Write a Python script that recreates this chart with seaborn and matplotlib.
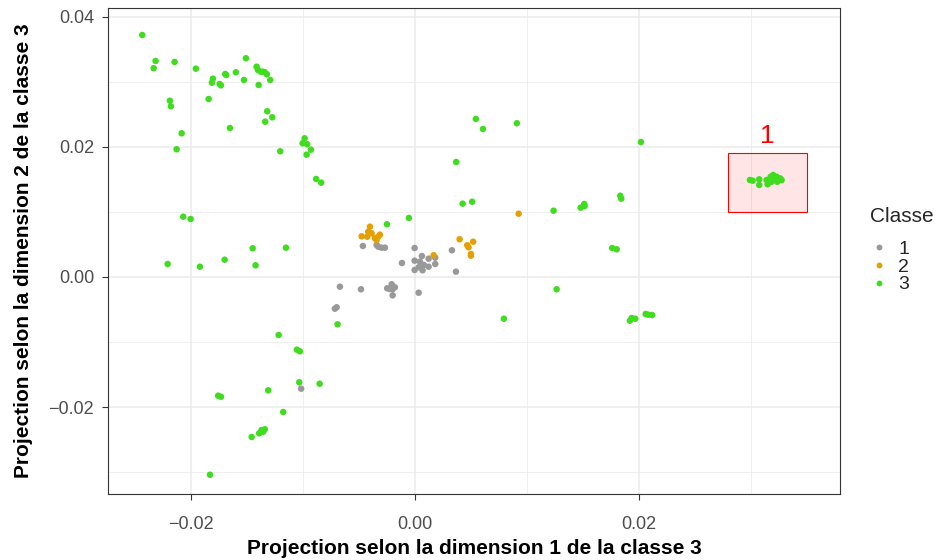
import matplotlib
matplotlib.use("Agg")
from matplotlib import pyplot as plt
from matplotlib.patches import Rectangle
from matplotlib.ticker import MultipleLocator
import numpy as np
import pandas as pd
import seaborn as sns

# Class 3 (green)
x_c3 = [-0.02432, -0.02313, -0.02330, -0.02143, -0.01953, -0.01506, -0.01411, -0.01399,
        -0.01372, -0.01354, -0.01337, -0.01319, -0.01289, -0.01393, -0.01524, -0.01596,
        -0.01691, -0.01682, -0.01801, -0.01810, -0.01741, -0.01729, -0.01839, -0.02185,
        -0.02176, -0.02080, -0.02125, -0.01649, -0.01316, -0.01271, -0.01334, -0.01200,
        -0.00982, -0.01000, -0.00959, -0.00926, -0.00964, -0.00879, -0.00834, -0.02066,
        -0.02000, -0.02205, -0.01917, -0.01696, -0.01446, -0.01420, -0.01149, -0.00247,
        -0.00051, 0.00371, 0.00429, 0.00514, 0.00547, 0.00610, 0.00913, 0.02021,
        0.01241, 0.01482, 0.01514, 0.01518, 0.01836, 0.01845, 0.01764, 0.01804,
        0.01268, 0.00797, 0.01922, 0.01938, 0.01970, 0.02063, 0.02086, 0.02121,
        -0.00688, -0.01214, -0.01051, -0.01024, -0.01030, -0.00848, -0.01307, -0.01754,
        -0.01729, -0.01173, -0.01366, -0.01352, -0.01388, -0.01337, -0.01455, -0.01827,
        0.02994, 0.03018, 0.03077, 0.03077, 0.03143, 0.03152, 0.03179, 0.03202,
        0.03232, 0.03262, 0.03277, 0.03238, 0.03188, 0.03217]
y_c3 = [0.03723, 0.03323, 0.03211, 0.03308, 0.03205, 0.03365, 0.03235, 0.03185,
        0.03158, 0.03158, 0.03149, 0.03118, 0.03031, 0.02954, 0.03031, 0.03149,
        0.03123, 0.03108, 0.03051, 0.02989, 0.02969, 0.02949, 0.02738, 0.02712,
        0.02626, 0.02211, 0.01965, 0.02292, 0.02549, 0.02457, 0.02389, 0.01934,
        0.02134, 0.02057, 0.02042, 0.01958, 0.01882, 0.01508, 0.01451, 0.00928,
        0.00892, 0.00200, 0.00158, 0.00266, 0.00442, 0.00180, 0.00451, 0.00811,
        0.00908, 0.01769, 0.01128, 0.01158, 0.02431, 0.02277, 0.02365, 0.02077,
        0.01020, 0.01066, 0.01123, 0.01092, 0.01251, 0.01205, 0.00446, 0.00426,
        -0.00189, -0.00642, -0.00672, -0.00631, -0.00642, -0.00569, -0.00580, -0.00585,
        -0.00728, -0.00892, -0.01118, -0.01143, -0.01620, -0.01642, -0.01743, -0.01826,
        -0.01842, -0.02077, -0.02354, -0.02380, -0.02405, -0.02343, -0.02462, -0.03042,
        0.01492, 0.01482, 0.01503, 0.01415, 0.01492, 0.01426, 0.01543, 0.01569,
        0.01543, 0.01518, 0.01492, 0.01466, 0.01466, 0.01503]

# Class 2 (orange)
x_c2 = [-0.00399, -0.00414, -0.00423, -0.00473, -0.00384, -0.00354, -0.00339, -0.00310,
        -0.00325, 0.00170, 0.00402, 0.00523, 0.00470, 0.00482, 0.00503, 0.00503, 0.00929]
y_c2 = [0.00774, 0.00697, 0.00620, 0.00626, 0.00672, 0.00595, 0.00569, 0.00651,
        0.00620, 0.00334, 0.00580, 0.00543, 0.00488, 0.00457, 0.00354, 0.00328, 0.00974]

# Class 1 (grey)
x_c1 = [-0.00462, -0.00339, -0.00325, -0.00295, -0.00265, 0.00000, 0.00065, 0.00125,
        0.00184, -0.00113, 0.00000, 0.00047, 0.00083, 0.00125, 0.00184, 0.00000,
        0.00071, 0.00036, 0.00333, 0.00369, -0.00667, -0.00479, -0.00245, -0.00205,
        -0.00176, -0.00196, -0.00221, -0.00196, 0.00036, -0.00712, -0.00696, -0.01013]
y_c1 = [0.00477, 0.00492, 0.00466, 0.00451, 0.00451, 0.00446, 0.00323, 0.00282,
        0.00297, 0.00215, 0.00251, 0.00235, 0.00185, 0.00158, 0.00200, 0.00108,
        0.00103, 0.00149, 0.00411, 0.00082, -0.00149, -0.00189, -0.00174, -0.00112,
        -0.00158, -0.00189, -0.00185, -0.00282, -0.00242, -0.00488, -0.00466, -0.01718]

# highlighted zone
zone_x = [0.028, 0.035]
zone_y = [0.010, 0.019]
zone_label = "1"

df = pd.DataFrame({
    "x": x_c1 + x_c2 + x_c3,
    "y": y_c1 + y_c2 + y_c3,
    "Classe": ["1"] * len(x_c1) + ["2"] * len(x_c2) + ["3"] * len(x_c3),
})

palette = {"1": "#999999", "2": "#E69F00", "3": "#40DC20"}

sns.set_theme(style="white")
plt.rcParams['font.family'] = ['Liberation Sans', 'DejaVu Sans']

fig = plt.figure(figsize=(9.38, 5.6), dpi=100)
ax = fig.add_axes([0.1151, 0.1179, 0.8955 - 0.1151, 0.9857 - 0.1179])

ax.add_patch(Rectangle((zone_x[0], zone_y[0]), zone_x[1] - zone_x[0], zone_y[1] - zone_y[0],
                       facecolor=(1, 0, 0, 0.1), edgecolor="red", linewidth=0.8, zorder=1))
ax.text(np.mean(zone_x), zone_y[1] + 0.0009, zone_label, color="red", fontsize=19,
        ha="center", va="bottom")

sns.scatterplot(data=df, x="x", y="y", hue="Classe", palette=palette, s=22,
                linewidth=0, ax=ax, zorder=3, legend=True)

ax.set_xlim(-0.02738, 0.03798)
ax.set_ylim(-0.03338, 0.04138)
ax.xaxis.set_major_locator(MultipleLocator(0.02))
ax.yaxis.set_major_locator(MultipleLocator(0.02))
ax.xaxis.set_minor_locator(MultipleLocator(0.01))
ax.yaxis.set_minor_locator(MultipleLocator(0.01))
ax.xaxis.set_major_formatter(lambda v, p: f"{v:.2f}".replace("-", "\u2212"))
ax.yaxis.set_major_formatter(lambda v, p: f"{v:.2f}".replace("-", "\u2212"))

ax.grid(which="major", color="#EBEBEB", linewidth=1.1, zorder=0)
ax.grid(which="minor", color="#EBEBEB", linewidth=0.55, zorder=0)
ax.set_axisbelow(True)
for sp in ax.spines.values():
    sp.set_color("#333333")
    sp.set_linewidth(0.8)
ax.tick_params(axis="both", which="major", length=4, width=0.8, color="#333333",
               labelsize=13, labelcolor="#4D4D4D", bottom=True, left=True)
ax.tick_params(axis="x", which="major", pad=12)
ax.tick_params(axis="y", which="major", pad=6)
ax.tick_params(which="minor", length=0)

ax.set_xlabel("Projection selon la dimension 1 de la classe 3", fontsize=15,
              fontweight="bold", color="black", labelpad=4)
ax.set_ylabel("Projection selon la dimension 2 de la classe 3", fontsize=15,
              fontweight="bold", color="black", labelpad=11)

# legend: title placed separately to get ggplot's gap under it
fig.text(870 / 938, 1 - 216 / 560, "Classe", fontsize=15, ha="left", va="center")
handles, labels = ax.get_legend_handles_labels()
ax.legend(handles, labels, loc="center left", bbox_to_anchor=(871 / 938, 1 - 267 / 560),
          bbox_transform=fig.transFigure, frameon=False, fontsize=14, borderpad=0,
          borderaxespad=0, handlelength=0.8, handletextpad=0.6, labelspacing=0.0,
          markerscale=0.9)

fig.savefig("out.png", dpi=100)
